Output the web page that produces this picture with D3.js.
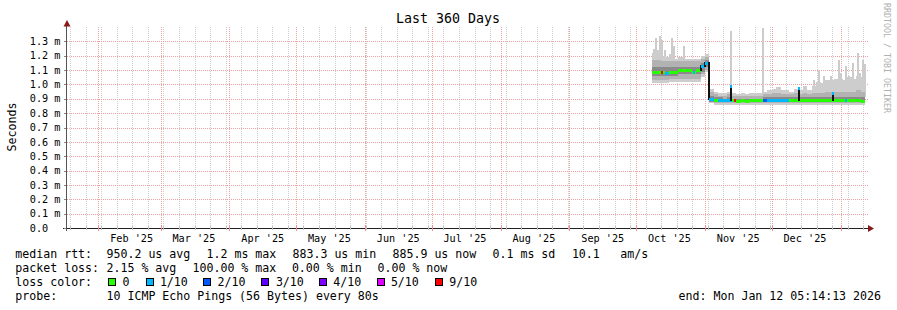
<!DOCTYPE html>
<html>
<head>
<meta charset="utf-8">
<script src="https://cdn.jsdelivr.net/npm/d3@7"></script>
<style>
  body { margin: 0; background: #fff; }
  text { font-family: "DejaVu Sans Mono", monospace; fill: #000; }
</style>
</head>
<body>
<div id="vis"></div>
<script>
var width = 897, height = 310;

// ---- data (values in ms) ----
var bucketStart = "2025-10-08T00:00Z";   // first 2-day bucket
var bucketDays = 2;

var median = [1.09, 1.09, 1.09, 1.08, 1.09, 1.09, 1.10, 1.10, 1.10, 1.09, 1.10, 1.13,
              1.15, 0.90, 0.895, 0.89, 0.89, 0.89, 0.89, 0.888, 0.89, 0.888, 0.89, 0.89,
              0.89, 0.892, 0.893, 0.892, 0.893, 0.892, 0.892, 0.89, 0.889, 0.889, 0.889, 0.89,
              0.889, 0.889, 0.89, 0.889, 0.889, 0.889, 0.89, 0.889, 0.889, 0.89, 0.889, 0.888];
var loss = [0, 0, 0, 1, 0, 0, 0, 0, 0, 0, 0, 1,
            1, 1, 0, 1, 1, 1, 0, 0, 0, 0, 0, 0,
            0, 2, 1, 1, 1, 1, 1, 0, 0, 0, 0, 0,
            0, 0, 0, 0, 0, 0, 0, 0, 0, 0, 0, 0];
var smokeMin = [1.01, 1.01, 1.01, 1.01, 1.02, 1.02, 1.02, 1.02, 1.02, 1.02, 1.02, 1.05,
                1.09, 0.87, 0.86, 0.86, 0.86, 0.86, 0.86, 0.86, 0.86, 0.86, 0.86, 0.86,
                0.86, 0.86, 0.86, 0.86, 0.86, 0.86, 0.86, 0.86, 0.86, 0.86, 0.86, 0.86,
                0.86, 0.86, 0.86, 0.86, 0.86, 0.86, 0.86, 0.86, 0.86, 0.86, 0.86, 0.86];
var smokeLo = [1.03, 1.03, 1.03, 1.03, 1.04, 1.04, 1.04, 1.04, 1.04, 1.04, 1.04, 1.07,
               1.10, 0.875, 0.87, 0.87, 0.87, 0.87, 0.87, 0.87, 0.87, 0.87, 0.87, 0.87,
               0.87, 0.87, 0.87, 0.87, 0.87, 0.87, 0.87, 0.87, 0.87, 0.87, 0.87, 0.87,
               0.87, 0.87, 0.87, 0.87, 0.87, 0.87, 0.87, 0.87, 0.87, 0.87, 0.87, 0.87];
var innerLo = [1.06, 1.06, 1.06, 1.06, 1.06, 1.06, 1.07, 1.07, 1.07, 1.07, 1.07, 1.09,
               1.12, 0.88, 0.88, 0.88, 0.88, 0.88, 0.88, 0.88, 0.88, 0.88, 0.88, 0.88,
               0.88, 0.88, 0.88, 0.88, 0.88, 0.88, 0.88, 0.88, 0.88, 0.88, 0.88, 0.88,
               0.88, 0.88, 0.88, 0.88, 0.88, 0.88, 0.88, 0.88, 0.88, 0.88, 0.88, 0.88];
var innerHi = [1.12, 1.12, 1.12, 1.12, 1.12, 1.12, 1.12, 1.12, 1.12, 1.12, 1.12, 1.15,
               1.17, 0.92, 0.91, 0.91, 0.90, 0.91, 0.90, 0.90, 0.90, 0.90, 0.90, 0.90,
               0.90, 0.91, 0.91, 0.91, 0.91, 0.91, 0.91, 0.91, 0.91, 0.91, 0.91, 0.91,
               0.91, 0.91, 0.91, 0.91, 0.91, 0.91, 0.91, 0.91, 0.91, 0.91, 0.91, 0.91];
var smokeHi = [1.17, 1.17, 1.16, 1.16, 1.16, 1.16, 1.16, 1.16, 1.16, 1.16, 1.16, 1.18,
               1.19, 0.95, 0.93, 0.92, 0.92, 0.93, 0.92, 0.92, 0.92, 0.92, 0.92, 0.92,
               0.92, 0.93, 0.93, 0.94, 0.94, 0.93, 0.93, 0.93, 0.94, 0.93, 0.94, 0.93,
               0.94, 0.94, 0.94, 0.95, 0.95, 0.95, 0.95, 0.95, 0.95, 0.95, 0.96, 0.95];
var smokeMax = [1.22, 1.24, 1.20, 1.19, 1.21, 1.18, 1.19, 1.18, 1.18, 1.18, 1.18, 1.20,
                1.21, 0.97, 0.95, 0.94, 0.94, 0.95, 0.94, 0.93, 0.94, 0.93, 0.94, 0.94,
                0.94, 0.95, 0.96, 0.97, 0.98, 0.96, 0.96, 0.95, 0.97, 0.96, 0.99, 0.96,
                0.99, 1.02, 1.01, 1.03, 1.03, 1.04, 1.04, 1.03, 1.05, 1.04, 1.06, 1.05];

// thin smoke spikes: time, max rtt
var spikeTimes = ["2025-10-08T19:00Z", "2025-10-09T17:00Z", "2025-10-11T07:00Z", "2025-10-12T05:00Z",
                  "2025-10-13T12:00Z", "2025-10-16T17:00Z", "2025-10-17T17:00Z", "2025-10-22T02:00Z",
                  "2025-11-12T05:00Z", "2025-11-26T21:00Z", "2025-12-19T17:00Z", "2025-12-22T00:00Z",
                  "2025-12-24T00:00Z", "2025-12-27T05:00Z", "2025-12-30T17:00Z", "2025-12-31T17:00Z",
                  "2026-01-03T00:00Z", "2026-01-04T12:00Z", "2026-01-06T07:00Z", "2026-01-08T07:00Z",
                  "2026-01-09T10:00Z", "2026-01-10T19:00Z", "2026-01-11T17:00Z"];
var spikeMax = [1.25, 1.32, 1.34, 1.31, 1.24, 1.32, 1.27, 1.27,
                1.37, 1.39, 1.03, 1.10, 1.06, 1.06, 1.17, 1.08,
                1.13, 1.06, 1.15, 1.22, 1.08, 1.17, 1.14];

// single median samples that stand out: time, median, loss
var markTimes = ["2025-10-12T01:00Z", "2025-10-26T14:00Z", "2025-11-12T05:00Z", "2025-11-14T05:00Z",
                 "2025-12-12T22:00Z", "2025-12-28T09:00Z", "2026-01-03T00:00Z"];
var markMedian = [1.09, 1.09, 0.99, 0.89, 0.975, 0.94, 0.89];
var markLoss = [9, 1, 1, 9, 1, 1, 1];

var lossLevels = [0, 1, 2, 3, 4, 5, 9];
var lossLabels = ["0", "1/10", "2/10", "3/10", "4/10", "5/10", "9/10"];
var lossColors = ["#26ff00", "#00b8ff", "#0059ff", "#5e00ff", "#7e00ff", "#dd00ff", "#ff0000"];

var yTicks = [0, 0.1, 0.2, 0.3, 0.4, 0.5, 0.6, 0.7, 0.8, 0.9, 1.0, 1.1, 1.2, 1.3];
var xTickLabels = ["Feb '25", "Mar '25", "Apr '25", "May '25", "Jun '25", "Jul '25",
                   "Aug '25", "Sep '25", "Oct '25", "Nov '25", "Dec '25"];

var rttStats = ["950.2 us avg", "1.2 ms max", "883.3 us min", "885.9 us now", "0.1 ms sd", "10.1", "am/s"];
var lossStats = ["2.15 % avg", "100.00 % max", "0.00 % min", "0.00 % now"];
var probeText = "10 ICMP Echo Pings (56 Bytes) every 80s";
var endText = "end: Mon Jan 12 05:14:13 2026";

// ---- scales ----
var x = d3.scaleUtc()
  .domain([new Date(Date.UTC(2025, 0, 17, 22)), new Date(Date.UTC(2026, 0, 12, 22))])
  .range([67, 867]);
var y = d3.scaleLinear().domain([0, 1.4]).range([228, 27]);

function lossColor(n) {
  var c = lossColors[0];
  lossLevels.forEach(function(l, i) { if (n >= l) c = lossColors[i]; });
  return c;
}
function px(v) { return Math.round(v) + 0.5; }

var svg = d3.select("#vis").append("svg")
  .attr("width", width)
  .attr("height", height);

// ---- grid ----
var grid = svg.append("g").attr("shape-rendering", "crispEdges");
var weeks = d3.utcSunday.range(x.domain()[0], x.domain()[1]).map(function(d) { return d3.utcHour.offset(d, 8); });
grid.selectAll(".minor").data(weeks).enter().append("line")
  .attr("x1", d => px(x(d))).attr("x2", d => px(x(d)))
  .attr("y1", 27).attr("y2", 228)
  .attr("stroke", "#cfcfcf").attr("stroke-dasharray", "1,1");
var months = d3.utcMonth.range(x.domain()[0], x.domain()[1]);
grid.selectAll(".major").data(months).enter().append("line")
  .attr("x1", d => px(x(d))).attr("x2", d => px(x(d)))
  .attr("y1", 27).attr("y2", 228)
  .attr("stroke", "#f0a0a0").attr("stroke-dasharray", "1,1");
grid.selectAll(".hgrid").data(yTicks.filter(d => d > 0)).enter().append("line")
  .attr("x1", 67).attr("x2", 868)
  .attr("y1", d => px(y(d))).attr("y2", d => px(y(d)))
  .attr("stroke", "#f0a0a0").attr("stroke-dasharray", "1,1");

// ---- smoke ----
var buckets = median.map(function(m, i) {
  return {
    t: d3.utcDay.offset(new Date(bucketStart), i * bucketDays),
    med: m, loss: loss[i],
    smin: smokeMin[i], slo: smokeLo[i], ilo: innerLo[i], ihi: innerHi[i], shi: smokeHi[i], smax: smokeMax[i]
  };
});
var lastB = buckets[buckets.length - 1];
var areaData = buckets.concat([Object.assign({}, lastB, { t: d3.utcDay.offset(lastB.t, bucketDays) })]);

var spikes = spikeTimes.map((t, i) => ({ t: new Date(t), top: spikeMax[i] }));
function bucketAt(t) {
  var i = Math.floor((t - new Date(bucketStart)) / 864e5 / bucketDays);
  return buckets[Math.max(0, Math.min(buckets.length - 1, i))];
}

var smoke = svg.append("g").attr("shape-rendering", "crispEdges");
smoke.selectAll(".spike").data(spikes).enter().append("rect")
  .attr("x", d => Math.round(x(d.t)))
  .attr("width", 2)
  .attr("y", d => Math.round(y(d.top)))
  .attr("height", d => Math.round(y(bucketAt(d.t).ihi)) - Math.round(y(d.top)))
  .attr("fill", "#cccccc");

function band(lo, hi, color) {
  smoke.append("path")
    .datum(areaData)
    .attr("d", d3.area().curve(d3.curveStepAfter)
      .x(d => x(d.t)).y0(d => y(d[lo])).y1(d => y(d[hi])))
    .attr("fill", color);
}
band("smin", "smax", "#cdcdcd");
band("slo", "shi", "#b2b2b2");
band("ilo", "ihi", "#8a8a8a");

// ---- median ----
var med = svg.append("g").attr("shape-rendering", "crispEdges");
buckets.forEach(function(b, i) {
  var x0 = Math.round(x(b.t)), x1 = Math.round(x(areaData[i + 1].t));
  if (i > 0 && Math.abs(y(b.med) - y(buckets[i - 1].med)) > 2) {
    var ya = y(buckets[i - 1].med), yb = y(b.med);
    med.append("rect").attr("x", x0 - 1).attr("width", 2)
      .attr("y", Math.round(Math.min(ya, yb)) - 1)
      .attr("height", Math.round(Math.abs(ya - yb)) + 2)
      .attr("fill", "#111");
  }
  med.append("rect").attr("x", x0).attr("width", x1 - x0)
    .attr("y", Math.round(y(b.med)) - 1).attr("height", 3)
    .attr("fill", lossColor(b.loss));
});
var marks = markTimes.map((t, i) => ({ t: new Date(t), v: markMedian[i], l: markLoss[i] }));
marks.forEach(function(m) {
  var xm = Math.round(x(m.t));
  var base = y(bucketAt(m.t).med), top = y(m.v);
  if (base - top > 2) {
    med.append("rect").attr("x", xm).attr("width", 2)
      .attr("y", Math.round(top)).attr("height", Math.round(base - top) + 1)
      .attr("fill", "#111");
  }
  med.append("rect").attr("x", xm).attr("width", 2)
    .attr("y", Math.round(top) - 1).attr("height", 3)
    .attr("fill", lossColor(m.l));
});

// ---- axes ----
var ax = svg.append("g").attr("shape-rendering", "crispEdges");
ax.append("line").attr("x1", 63).attr("x2", 869).attr("y1", 228.5).attr("y2", 228.5).attr("stroke", "#222");
ax.append("line").attr("x1", 66.5).attr("x2", 66.5).attr("y1", 231).attr("y2", 24).attr("stroke", "#555");
ax.selectAll(".yt").data(yTicks).enter().append("line")
  .attr("x1", 64).attr("x2", 66).attr("y1", d => px(y(d))).attr("y2", d => px(y(d)))
  .attr("stroke", "#888");
ax.selectAll(".xtm").data(weeks).enter().append("line")
  .attr("x1", d => px(x(d))).attr("x2", d => px(x(d))).attr("y1", 226).attr("y2", 230)
  .attr("stroke", "#c0c0c0");
ax.selectAll(".xtM").data(months).enter().append("line")
  .attr("x1", d => px(x(d))).attr("x2", d => px(x(d))).attr("y1", 225).attr("y2", 231)
  .attr("stroke", "#f09090");
svg.append("path").attr("d", "M63.5,26.5 L70.5,26.5 L67,20 Z").attr("fill", "#8b1a1a");
svg.append("path").attr("d", "M868,225 L868,232 L874,228.5 Z").attr("fill", "#8b1a1a");

// ---- labels ----
svg.append("text").attr("x", 448).attr("y", 23).attr("text-anchor", "middle")
  .style("font-size", "13.3px").text("Last 360 Days");

svg.selectAll(".ylab").data(yTicks).enter().append("text")
  .attr("x", 29.8).attr("y", d => y(d) + 3.7)
  .style("font-size", "10.2px")
  .text(d => d === 0 ? "0.0" : d.toFixed(1) + " m");

var labelMonths = months.filter(d => d.getUTCMonth() > 0 || d.getUTCFullYear() > 2025).slice(0, xTickLabels.length);
svg.selectAll(".xlab").data(labelMonths).enter().append("text")
  .attr("x", d => x(d3.utcDay.offset(d, 15)))
  .attr("y", 242)
  .attr("text-anchor", "middle")
  .style("font-size", "10.2px")
  .text((d, i) => xTickLabels[i]);

svg.append("text").attr("transform", "translate(15.5,127) rotate(-90)")
  .attr("text-anchor", "middle").style("font-size", "11.6px").text("Seconds");

svg.append("text").attr("transform", "translate(884,3) rotate(90)")
  .style("font-size", "8.3px").style("fill", "#b0b0b0").text("RRDTOOL / TOBI OETIKER");

// ---- legend ----
var lg = svg.append("g").style("font-size", "11.6px");
var rows = [258, 271.9, 285.8, 299.7];
lg.append("text").attr("x", 15.3).attr("y", rows[0]).text("median rtt:");
var rttX = [107.3, 207.3, 293.3, 393.3, 493.3, 572.7, 621];
rttStats.forEach((s, i) => lg.append("text").attr("x", rttX[i] - 0.8).attr("y", rows[0]).text(s));
lg.append("text").attr("x", 15.3).attr("y", rows[1]).text("packet loss:");
var lossX = [107.3, 193.3, 292.7, 378.3];
lossStats.forEach((s, i) => lg.append("text").attr("x", lossX[i] - 0.8).attr("y", rows[1]).text(s));
lg.append("text").attr("x", 15.3).attr("y", rows[2]).text("loss color:");
var boxX = [108.5, 146, 203.5, 261.5, 319.5, 377.5, 435];
var boxLabX = [123.3, 160.7, 218.3, 276.7, 334, 391.7, 450];
lossLabels.forEach(function(l, i) {
  lg.append("rect").attr("x", boxX[i]).attr("y", 278.5).attr("width", 7).attr("height", 7)
    .attr("fill", lossColors[i]).attr("stroke", "#000").attr("shape-rendering", "crispEdges");
  lg.append("text").attr("x", boxLabX[i] - 0.8).attr("y", rows[2]).text(l);
});
lg.append("text").attr("x", 15.3).attr("y", rows[3]).text("probe:");
lg.append("text").attr("x", 106.5).attr("y", rows[3]).text(probeText);
lg.append("text").attr("x", 881).attr("y", rows[3]).attr("text-anchor", "end").text(endText);
</script>
</body>
</html>
